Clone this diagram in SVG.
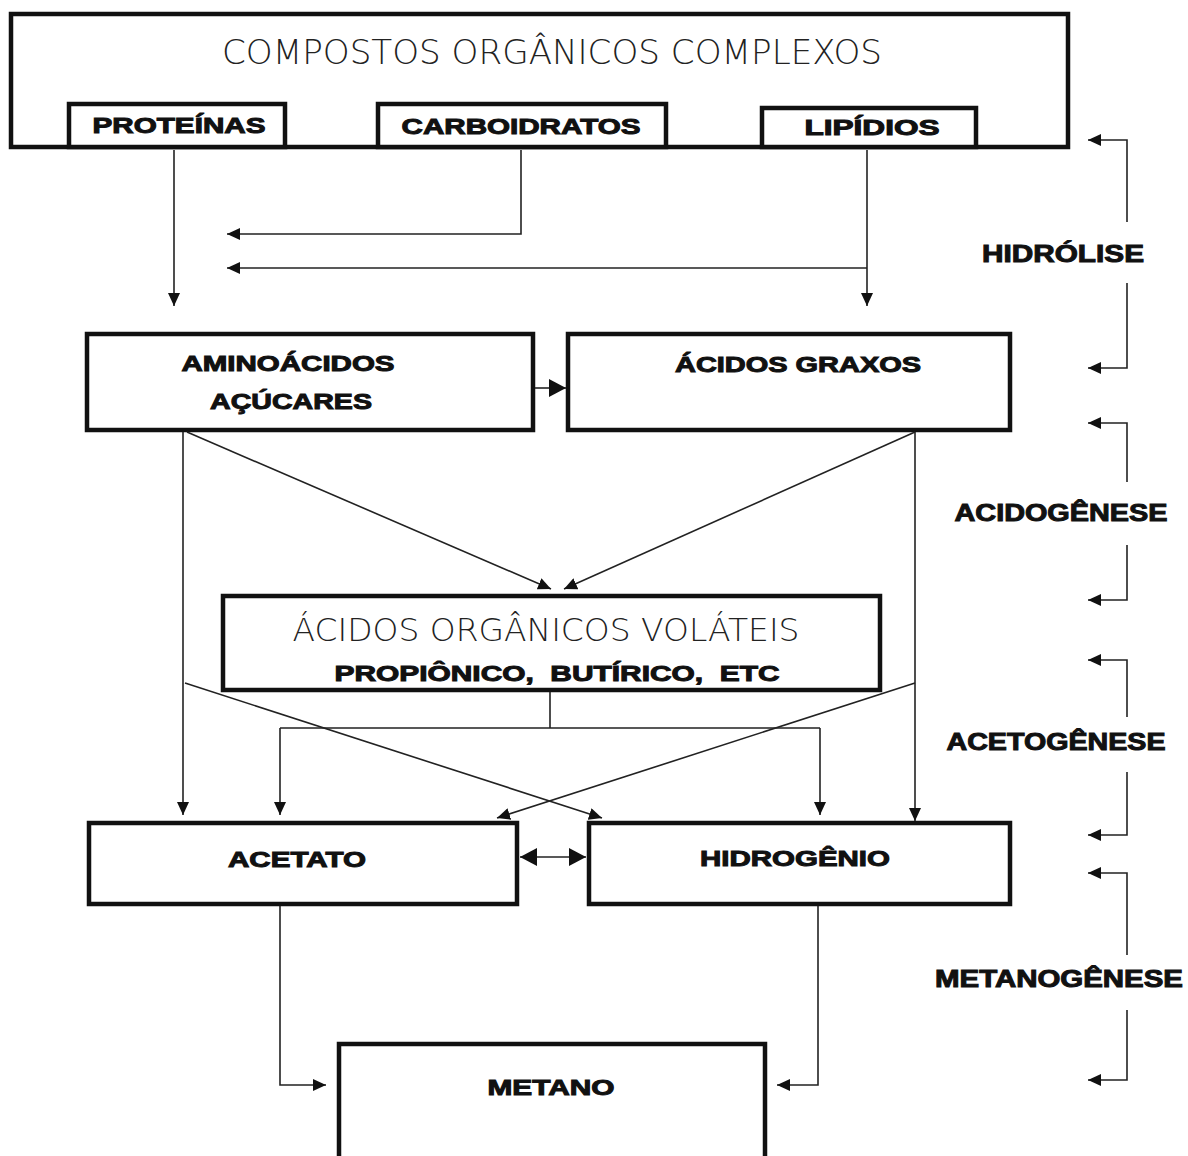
<svg xmlns="http://www.w3.org/2000/svg" width="1188" height="1156" viewBox="0 0 1188 1156">
<style>
.box{fill:#fff;stroke:#111;stroke-width:4.5}
.ln{fill:none;stroke:#222;stroke-width:1.6}
.thin{font-family:"DejaVu Sans","Liberation Sans",sans-serif;font-weight:200;fill:#222;text-anchor:middle}
.bd{font-family:"Liberation Sans",Arial,sans-serif;font-weight:bold;fill:#111;stroke:#111;stroke-width:1;text-anchor:middle;font-size:22px}
.ph{font-family:"Liberation Sans",Arial,sans-serif;font-weight:bold;fill:#111;stroke:#111;stroke-width:1;text-anchor:middle;font-size:24px}
</style>
<defs>
<marker id="ah" markerUnits="userSpaceOnUse" markerWidth="14" markerHeight="12" refX="13" refY="6" orient="auto-start-reverse">
<path d="M0,0 L13,6 L0,12 z" fill="#111"/>
</marker>
<marker id="ahb" markerUnits="userSpaceOnUse" markerWidth="18" markerHeight="18" refX="17" refY="9" orient="auto-start-reverse">
<path d="M0,0 L17,9 L0,18 z" fill="#111"/>
</marker>
</defs>
<rect width="1188" height="1156" fill="#fff"/>

<g id="compostos">
<rect class="box" x="11" y="14" width="1057" height="133"/>
<text class="thin" x="552" y="64" font-size="33" textLength="660" lengthAdjust="spacingAndGlyphs">COMPOSTOS ORGÂNICOS COMPLEXOS</text>
</g>
<g id="proteinas">
<rect class="box" x="69" y="104" width="216" height="43"/>
<text class="bd" x="179" y="133" textLength="173" lengthAdjust="spacingAndGlyphs">PROTEÍNAS</text>
</g>
<g id="carboidratos">
<rect class="box" x="378" y="104" width="288" height="43"/>
<text class="bd" x="521" y="134" textLength="239" lengthAdjust="spacingAndGlyphs">CARBOIDRATOS</text>
</g>
<g id="lipidios">
<rect class="box" x="762" y="108" width="214" height="39"/>
<text class="bd" x="872" y="135" textLength="135" lengthAdjust="spacingAndGlyphs">LIPÍDIOS</text>
</g>

<g id="aminoacidos">
<rect class="box" x="87" y="334" width="446" height="96"/>
<text class="bd" x="288" y="371" textLength="213" lengthAdjust="spacingAndGlyphs">AMINOÁCIDOS</text>
<text class="bd" x="291" y="409" textLength="162" lengthAdjust="spacingAndGlyphs">AÇÚCARES</text>
</g>
<g id="acidos-graxos">
<rect class="box" x="568" y="334" width="442" height="96"/>
<text class="bd" x="798" y="372" textLength="246" lengthAdjust="spacingAndGlyphs">ÁCIDOS GRAXOS</text>
</g>

<g id="acidos-volateis">
<rect class="box" x="223" y="596" width="657" height="94"/>
<text class="thin" x="546" y="641" font-size="32" textLength="507" lengthAdjust="spacingAndGlyphs">ÁCIDOS ORGÂNICOS VOLÁTEIS</text>
<text class="bd" x="557" y="681" textLength="445" lengthAdjust="spacingAndGlyphs" xml:space="preserve">PROPIÔNICO,  BUTÍRICO,  ETC</text>
</g>

<g id="acetato">
<rect class="box" x="89" y="823" width="428" height="81"/>
<text class="bd" x="297" y="867" textLength="138" lengthAdjust="spacingAndGlyphs">ACETATO</text>
</g>
<g id="hidrogenio">
<rect class="box" x="589" y="823" width="421" height="81"/>
<text class="bd" x="795" y="866" textLength="190" lengthAdjust="spacingAndGlyphs">HIDROGÊNIO</text>
</g>

<g id="metano">
<rect class="box" x="339" y="1044" width="426" height="130"/>
<text class="bd" x="551" y="1095" textLength="127" lengthAdjust="spacingAndGlyphs">METANO</text>
</g>

<g id="connectors">
<path class="ln" d="M174,150 V306" marker-end="url(#ah)"/>
<path class="ln" d="M521,150 V234 H227" marker-end="url(#ah)"/>
<path class="ln" d="M867,150 V306" marker-end="url(#ah)"/>
<path class="ln" d="M867,268 H227" marker-end="url(#ah)"/>
<path class="ln" d="M535,388 H566" marker-end="url(#ahb)"/>
<path class="ln" d="M183,432 V815" marker-end="url(#ah)"/>
<path class="ln" d="M187,432 L551,589" marker-end="url(#ah)"/>
<path class="ln" d="M915,432 L564,589" marker-end="url(#ah)"/>
<path class="ln" d="M915,432 V821" marker-end="url(#ah)"/>
<path class="ln" d="M550,692 V728 M280,728 H820"/>
<path class="ln" d="M280,728 V815" marker-end="url(#ah)"/>
<path class="ln" d="M820,728 V815" marker-end="url(#ah)"/>
<path class="ln" d="M185,683 L602,818" marker-end="url(#ah)"/>
<path class="ln" d="M915,683 L497,818" marker-end="url(#ah)"/>
<path class="ln" d="M520,857 H586" marker-start="url(#ahb)" marker-end="url(#ahb)"/>
<path class="ln" d="M280,906 V1085 H326" marker-end="url(#ah)"/>
<path class="ln" d="M818,906 V1085 H777" marker-end="url(#ah)"/>
</g>

<g id="fases">
<g id="hidrolise">
<text class="ph" x="1063" y="262" textLength="162" lengthAdjust="spacingAndGlyphs">HIDRÓLISE</text>
<path class="ln" d="M1127,222 V140 H1088" marker-end="url(#ah)"/>
<path class="ln" d="M1127,283 V368 H1088" marker-end="url(#ah)"/>
</g>
<g id="acidogenese">
<text class="ph" x="1061" y="521" textLength="213" lengthAdjust="spacingAndGlyphs">ACIDOGÊNESE</text>
<path class="ln" d="M1127,482 V423 H1088" marker-end="url(#ah)"/>
<path class="ln" d="M1127,545 V600 H1088" marker-end="url(#ah)"/>
</g>
<g id="acetogenese">
<text class="ph" x="1056" y="750" textLength="219" lengthAdjust="spacingAndGlyphs">ACETOGÊNESE</text>
<path class="ln" d="M1127,717 V660 H1088" marker-end="url(#ah)"/>
<path class="ln" d="M1127,772 V835 H1088" marker-end="url(#ah)"/>
</g>
<g id="metanogenese">
<text class="ph" x="1059" y="987" textLength="248" lengthAdjust="spacingAndGlyphs">METANOGÊNESE</text>
<path class="ln" d="M1127,955 V873 H1088" marker-end="url(#ah)"/>
<path class="ln" d="M1127,1010 V1080 H1088" marker-end="url(#ah)"/>
</g>
</g>
</svg>
